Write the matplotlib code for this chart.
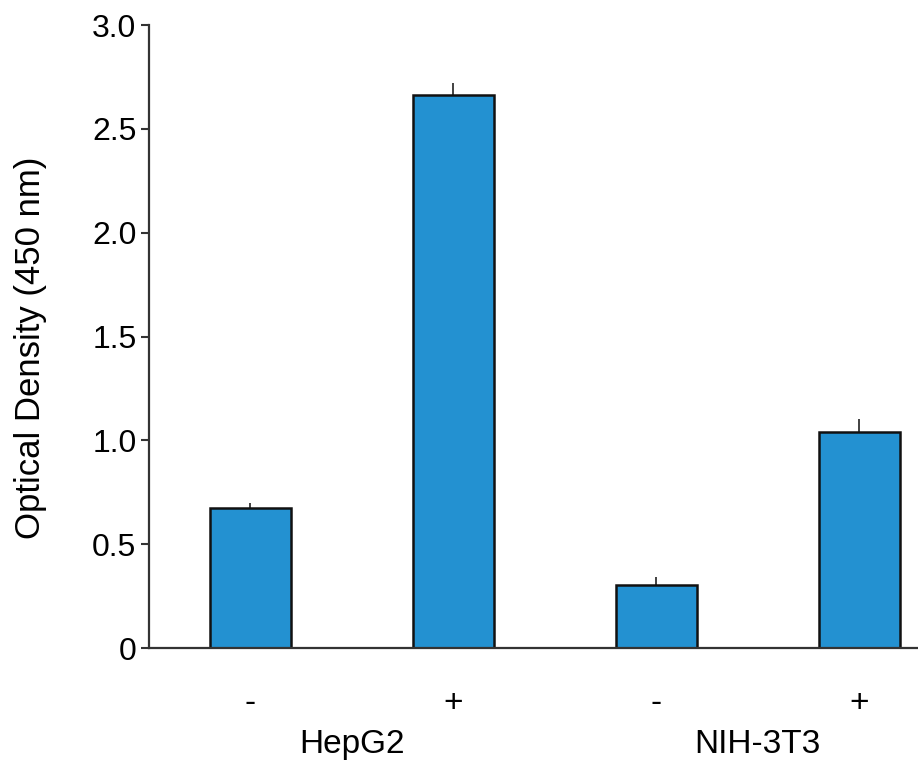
import matplotlib
matplotlib.use('Agg')
import matplotlib.pyplot as plt
import numpy as np

plt.rcParams['font.family'] = ['Liberation Sans', 'DejaVu Sans']

# data
conditions = ['-', '+', '-', '+']
groups     = ['HepG2', 'NIH-3T3']
od_values  = [0.675, 2.665, 0.305, 1.040]
od_errors  = [0.025, 0.055, 0.035, 0.065]

BAR_COLOR = '#2391d1'

fig = plt.figure(figsize=(9.18, 7.65), dpi=100)
ax = fig.add_axes([0.1623, 0.1529, 0.8377, 0.8144])

x = np.arange(len(od_values))
ax.bar(x, od_values, width=0.4, color=BAR_COLOR, edgecolor='#111111', linewidth=1.8, zorder=2)
# upper-only error bars, no caps
ax.errorbar(x, od_values, yerr=[np.zeros(len(od_errors)), od_errors], fmt='none',
            ecolor='#333333', elinewidth=1.3, capsize=0, zorder=1)

ax.set_xlim(-0.5, 3.29)
ax.set_ylim(0, 3.0)
ax.set_yticks([0, 0.5, 1.0, 1.5, 2.0, 2.5, 3.0])
ax.set_yticklabels(['0', '0.5', '1.0', '1.5', '2.0', '2.5', '3.0'])
ax.set_xticks(x)
ax.set_xticklabels(conditions, fontsize=24)
ax.tick_params(axis='x', length=0, pad=29)
ax.tick_params(axis='y', labelsize=23, length=6, width=1.5, color='#333333', pad=3)

for g, name in enumerate(groups):
    ax.text(2 * g + 0.5, -0.505, name, ha='center', va='baseline', fontsize=24)

ax.set_ylabel('Optical Density (450 nm)', fontsize=25)
ax.yaxis.set_label_coords(-0.132, 0.482)

ax.spines[['top', 'right']].set_visible(False)
for s in ['left', 'bottom']:
    ax.spines[s].set_linewidth(1.6)
    ax.spines[s].set_color('#333333')

plt.savefig('out.png', dpi=100)
